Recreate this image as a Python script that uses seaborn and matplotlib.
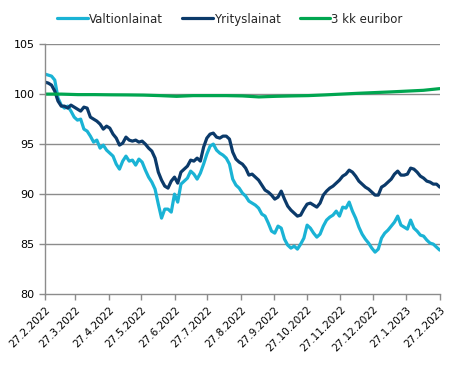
import numpy as np
import pandas as pd
import matplotlib
matplotlib.use("Agg")
import matplotlib.pyplot as plt
import seaborn as sns

# === Data (index 27.2.2022 = 100) ===
START, END = "2022-02-27", "2023-02-27"

valtionlainat = [
    102.0, 101.9, 101.8, 101.4, 99.6, 98.9, 98.6, 98.8, 98.3, 97.7,
    97.4, 97.5, 96.5, 96.3, 95.8, 95.2, 95.4, 94.6, 94.9, 94.4,
    94.1, 93.8, 93.0, 92.5, 93.3, 93.8, 93.3, 93.4, 92.9, 93.5,
    93.2, 92.4, 91.7, 91.2, 90.5, 89.0, 87.6, 88.5, 88.5, 88.2,
    90.0, 89.2, 91.0, 91.3, 91.6, 92.3, 92.0, 91.5, 92.1, 93.0,
    94.0, 94.8, 95.0, 94.4, 94.1, 93.9, 93.6, 93.0, 91.5, 90.9,
    90.6, 90.1, 89.8, 89.3, 89.1, 88.9, 88.6, 88.0, 87.8, 87.1,
    86.3, 86.1, 86.8, 86.6, 85.5, 84.9, 84.6, 84.8, 84.5, 85.0,
    85.6, 86.9, 86.6, 86.1, 85.7, 86.0, 86.8, 87.4, 87.7, 87.9,
    88.3, 87.8, 88.7, 88.6, 89.2, 88.3, 87.6, 86.7, 86.0, 85.5,
    85.1, 84.6, 84.2, 84.5, 85.6, 86.1, 86.4, 86.8, 87.2, 87.8,
    86.9, 86.7, 86.5, 87.4, 86.6, 86.3, 85.9, 85.8, 85.4, 85.1,
    85.0, 84.7, 84.4,
]

yrityslainat = [
    101.2, 101.1, 100.9, 100.3, 99.3, 98.8, 98.8, 98.6, 98.9, 98.7,
    98.5, 98.3, 98.7, 98.6, 97.7, 97.5, 97.3, 97.0, 96.5, 96.8,
    96.6, 96.0, 95.6, 94.9, 95.1, 95.7, 95.4, 95.3, 95.4, 95.2,
    95.3, 95.0, 94.6, 94.3, 93.6, 92.2, 91.4, 90.8, 90.6, 91.3,
    91.7, 91.1, 92.2, 92.5, 92.8, 93.4, 93.3, 93.6, 93.3, 94.7,
    95.6, 96.0, 96.1, 95.7, 95.6, 95.8, 95.8, 95.5, 94.2, 93.5,
    93.2, 93.0, 92.6, 91.9, 92.0, 91.7, 91.4, 90.9, 90.4, 90.2,
    89.9, 89.5, 89.7, 90.3, 89.5, 88.8, 88.4, 88.1, 87.8, 87.9,
    88.5, 89.0, 89.1, 88.9, 88.7, 89.1, 89.9, 90.3, 90.6, 90.8,
    91.1, 91.4, 91.8, 92.0, 92.4, 92.2, 91.8, 91.3, 91.0, 90.7,
    90.5, 90.2, 89.9, 89.9, 90.7, 90.9, 91.2, 91.5, 92.0, 92.3,
    91.9, 91.9, 92.0, 92.6, 92.5, 92.2, 91.8, 91.6, 91.3, 91.2,
    91.0, 91.0, 90.7,
]

euribor = [
    100.0, 100.0, 99.95, 99.95, 99.93, 99.92, 99.9, 99.85, 99.78, 99.85,
    99.85, 99.85, 99.82, 99.72, 99.78, 99.82, 99.85, 99.92, 100.0, 100.08,
    100.15, 100.22, 100.3, 100.38, 100.55,
]

series_names = ["Valtionlainat", "Yrityslainat", "3 kk euribor"]
series_colors = ["#1ab3d5", "#0b3a6a", "#00a650"]
tick_labels = ["27.2.2022", "27.3.2022", "27.4.2022", "27.5.2022", "27.6.2022",
               "27.7.2022", "27.8.2022", "27.9.2022", "27.10.2022", "27.11.2022",
               "27.12.2022", "27.1.2023", "27.2.2023"]
y_ticks = [80, 85, 90, 95, 100, 105]

# === Long-form table for seaborn ===
frames = []
for name, vals in zip(series_names, [valtionlainat, yrityslainat, euribor]):
    dates = pd.date_range(START, END, periods=len(vals))
    frames.append(pd.DataFrame({"pvm": dates, "arvo": vals, "sarja": name}))
df = pd.concat(frames, ignore_index=True)

# === Plot ===
sns.set_style("white")
plt.rcParams["font.family"] = ["DejaVu Sans"]

fig = plt.figure(figsize=(4.6, 3.87), dpi=100)
ax = fig.add_axes([0.098, 0.240, 0.858, 0.646])

for y in y_ticks[1:]:
    ax.axhline(y, color="#8c8c8c", lw=1.0, zorder=0)

sns.lineplot(data=df, x="pvm", y="arvo", hue="sarja", hue_order=series_names,
             palette=dict(zip(series_names, series_colors)), linewidth=2.3, ax=ax)

ax.set_xlim(pd.Timestamp(START), pd.Timestamp(END))
ax.set_ylim(80, 105)
ax.set_yticks(y_ticks)
ax.set_xticks(pd.to_datetime(tick_labels, format="%d.%m.%Y"))
ax.set_xticklabels(tick_labels, rotation=45, ha="right", rotation_mode="anchor")
ax.set_xlabel("")
ax.set_ylabel("")

for side in ["top", "right"]:
    ax.spines[side].set_visible(False)
for side in ["left", "bottom"]:
    ax.spines[side].set_color("#8c8c8c")
    ax.spines[side].set_linewidth(1.0)
ax.tick_params(axis="both", labelsize=8, colors="#8c8c8c", labelcolor="black",
               length=4, width=1, direction="out", bottom=True, left=True)
ax.tick_params(axis="x", labelsize=7.5)

sns.move_legend(ax, "upper center", bbox_to_anchor=(0.5, 0.995),
                bbox_transform=fig.transFigure, ncol=3, title=None,
                frameon=False, fontsize=8.5, handlelength=2.6,
                handletextpad=0.1, columnspacing=1.6)

fig.savefig("out.png", dpi=100)
